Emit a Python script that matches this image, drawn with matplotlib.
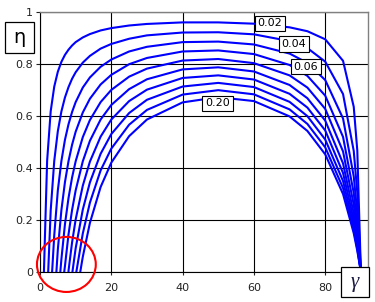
import matplotlib.pyplot as plt
from matplotlib.patches import Ellipse, Rectangle

# friction coefficients and where each curve leaves the axis (eta = 0)
mu_labels = ["0.02", "0.04", "0.06", "0.08", "0.10", "0.12", "0.14", "0.16", "0.18", "0.20"]
gamma_start = [1.1, 2.3, 3.4, 4.6, 5.7, 6.8, 8.0, 9.1, 10.2, 11.3]

# gamma grid (deg) shared by all curves
gamma = [2, 3, 4, 5, 6, 7, 8, 9, 10, 12, 14, 17, 20, 25, 30, 40, 50, 60, 70, 75, 80, 85, 88, 89, 90]

eta_002 = [0.427, 0.618, 0.713, 0.770, 0.808, 0.835, 0.855, 0.871, 0.884, 0.902, 0.915, 0.929, 0.938,
           0.948, 0.954, 0.960, 0.960, 0.955, 0.941, 0.926, 0.895, 0.812, 0.635, 0.466, 0]
eta_004 = [None, 0.236, 0.427, 0.541, 0.617, 0.671, 0.711, 0.743, 0.768, 0.805, 0.831, 0.859, 0.877,
           0.897, 0.910, 0.921, 0.922, 0.914, 0.888, 0.861, 0.809, 0.684, 0.465, 0.304, 0]
eta_006 = [None, None, 0.141, 0.313, 0.426, 0.508, 0.568, 0.615, 0.653, 0.709, 0.748, 0.789, 0.817,
           0.848, 0.866, 0.884, 0.886, 0.875, 0.840, 0.804, 0.738, 0.590, 0.367, 0.225, 0]
eta_008 = [None, None, None, 0.085, 0.237, 0.345, 0.426, 0.489, 0.539, 0.613, 0.666, 0.721, 0.758,
           0.799, 0.823, 0.848, 0.852, 0.838, 0.796, 0.754, 0.678, 0.519, 0.303, 0.179, 0]
eta_010 = [None, None, None, None, 0.048, 0.183, 0.284, 0.363, 0.425, 0.518, 0.584, 0.653, 0.700,
           0.751, 0.782, 0.813, 0.819, 0.803, 0.756, 0.709, 0.627, 0.463, 0.258, 0.148, 0]
eta_012 = [None, None, None, None, None, 0.022, 0.144, 0.238, 0.313, 0.425, 0.504, 0.586, 0.642,
           0.703, 0.741, 0.779, 0.787, 0.771, 0.719, 0.668, 0.582, 0.417, 0.224, 0.127, 0]
eta_014 = [None, None, None, None, None, None, 0.004, 0.113, 0.201, 0.331, 0.424, 0.520, 0.586,
           0.657, 0.701, 0.746, 0.756, 0.740, 0.685, 0.632, 0.544, 0.380, 0.199, 0.111, 0]
eta_016 = [None, None, None, None, None, None, None, None, 0.090, 0.239, 0.344, 0.454, 0.530,
           0.611, 0.662, 0.713, 0.727, 0.711, 0.654, 0.599, 0.509, 0.349, 0.178, 0.098, 0]
eta_018 = [None, None, None, None, None, None, None, None, None, 0.147, 0.266, 0.390, 0.474,
           0.566, 0.623, 0.682, 0.699, 0.683, 0.625, 0.569, 0.479, 0.322, 0.161, 0.088, 0]
eta_020 = [None, None, None, None, None, None, None, None, None, 0.057, 0.188, 0.326, 0.420,
           0.522, 0.586, 0.652, 0.672, 0.657, 0.598, 0.542, 0.452, 0.299, 0.148, 0.080, 0]

curves = [eta_002, eta_004, eta_006, eta_008, eta_010, eta_012, eta_014, eta_016, eta_018, eta_020]

# labelled curves and where the label boxes sit
label_text = ["0.02", "0.04", "0.06", "0.20"]
label_pos = [(64.5, 0.956), (71.2, 0.877), (74.6, 0.790), (49.8, 0.648)]

xticks = [0, 20, 40, 60, 80]
yticks = [0, 0.2, 0.4, 0.6, 0.8, 1]
ytick_labels = ["0", "0.2", "0.4", "0.6", "0.8", "1"]

fig = plt.figure(figsize=(3.75, 3.02), dpi=100)
ax = fig.add_axes([40 / 375, 1 - 271.7 / 302, 328 / 375, 259.7 / 302])

for g0, eta in zip(gamma_start, curves):
    xs = [g0] + [g for g, e in zip(gamma, eta) if e is not None]
    ys = [0] + [e for e in eta if e is not None]
    ax.plot(xs, ys, color="#0000FF", lw=1.5, solid_joinstyle="round", zorder=3)

for txt, (gx, gy) in zip(label_text, label_pos):
    ax.text(gx, gy, txt, fontsize=8, ha="center", va="center", zorder=5,
            bbox=dict(boxstyle="square,pad=0.25", fc="white", ec="black", lw=0.8))

# red circle around the starting points
ax.add_patch(Ellipse((7.4, 0.028), 16.5, 0.212, fill=False, ec="#FF0000", lw=1.5,
                     clip_on=False, zorder=6))

ax.set_xlim(0, 92)
ax.set_ylim(0, 1)
ax.set_xticks(xticks)
ax.set_yticks(yticks)
ax.set_yticklabels(ytick_labels)
ax.grid(True, color="black", lw=0.8)
ax.set_axisbelow(True)
ax.tick_params(axis="both", labelsize=8, colors="#222222", width=0.8)
ax.tick_params(axis="y", length=3, pad=2)
ax.tick_params(axis="x", length=2, pad=6)
for s in ["top", "right"]:
    ax.spines[s].set_color("#808080")
    ax.spines[s].set_linewidth(1.0)
for s in ["left", "bottom"]:
    ax.spines[s].set_color("black")
    ax.spines[s].set_linewidth(0.8)

# boxed axis symbols
fig.add_artist(Rectangle((5 / 375, 1 - 53 / 302), 29 / 375, 31 / 302, transform=fig.transFigure,
                         fill=True, fc="white", ec="black", lw=0.9))
fig.text(19.5 / 375, 1 - 37.5 / 302, "η", fontsize=14, ha="center", va="center")
fig.add_artist(Rectangle((341 / 375, 1 - 297 / 302), 28 / 375, 30 / 302, transform=fig.transFigure,
                         fill=True, fc="white", ec="black", lw=0.9, zorder=10))
fig.text(355 / 375, 1 - 282 / 302, "γ", fontsize=15, ha="center", va="center", zorder=11,
         family="Liberation Serif", style="italic", color="#1a1a40")

plt.savefig("out.png", dpi=100)
